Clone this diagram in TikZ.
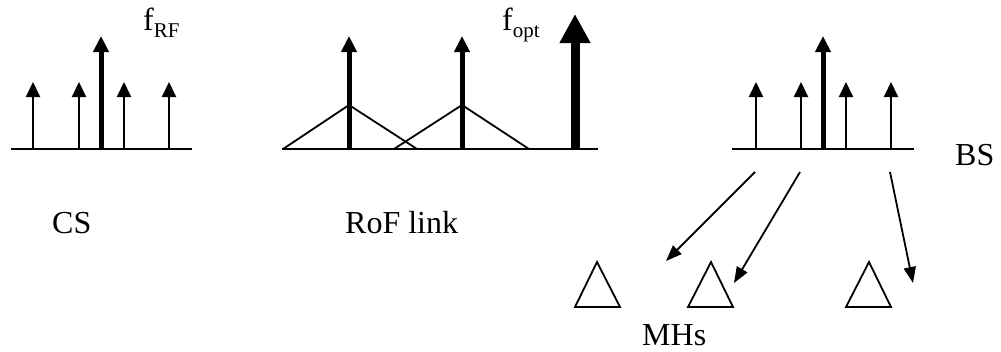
\documentclass[tikz,border=0pt]{standalone}
\usepackage{fontspec}
\setmainfont{Liberation Serif}
\usetikzlibrary{arrows.meta}
\tikzset{
  base/.style={line width=2pt},
  thinline/.style={line width=2pt,-{Triangle[width=14pt,length=15pt]}},
  thickline/.style={line width=5pt,-{Triangle[width=15pt,length=16pt]}},
  bigline/.style={line width=9pt,-{Triangle[width=29pt,length=29pt]}},
  tri/.style={line width=1.8pt,line join=miter},
  link/.style={line width=1.8pt,-{Triangle[width=12pt,length=16pt]}},
  lbl/.style={anchor=base west,inner sep=0pt,font=\fontsize{32}{38}\selectfont}
}
\newcommand{\subtxt}[1]{\raisebox{-0.22em}{\fontsize{21}{25}\selectfont #1}}
\begin{document}
\begin{tikzpicture}[x=1pt,y=-1pt]
\useasboundingbox (0,0) rectangle (1001,351);
% CS spectrum
\draw[base] (11,149) -- (192,149);
\foreach \x in {33,79,124,169} \draw[thinline] (\x,149) -- (\x,82);
\draw[thickline] (101,149) -- (101,36);
\node[lbl] (frf) at (143,30) {f\subtxt{RF}};
\node[lbl] (cs) at (52,233) {CS};
% RoF link spectrum
\draw[base] (282,149) -- (598,149);
\draw[tri] (283,149) -- (349,105) -- (417,149);
\draw[tri] (394,149) -- (462,105) -- (529,149);
\draw[thickline] (349,149) -- (349,36);
\draw[thickline] (462,149) -- (462,36);
\draw[bigline] (575,149) -- (575,14);
\node[lbl] (fopt) at (502,30) {f\subtxt{opt}};
\node[lbl] (rof) at (345,233) {RoF link};
% BS spectrum
\draw[base] (732,149) -- (914,149);
\foreach \x in {756,801,846,891} \draw[thinline] (\x,149) -- (\x,82);
\draw[thickline] (823,149) -- (823,36);
\node[lbl] (bs) at (955,165) {BS};
% links to MHs
\coordinate (s1) at (755,172); \coordinate (e1) at (666,261);
\coordinate (s2) at (800,172); \coordinate (e2) at (734,283);
\coordinate (s3) at (890,172); \coordinate (e3) at (913,283);
\draw[link] (s1) -- (e1);
\draw[link] (s2) -- (e2);
\draw[link] (s3) -- (e3);
% MHs
\draw[tri] (575,307) -- (597,262) -- (620,307) -- cycle;
\draw[tri] (688,307) -- (711,262) -- (733,307) -- cycle;
\draw[tri] (846,307) -- (869,262) -- (891,307) -- cycle;
\node[lbl] (mhs) at (642,345) {MHs};
\end{tikzpicture}
\end{document}
